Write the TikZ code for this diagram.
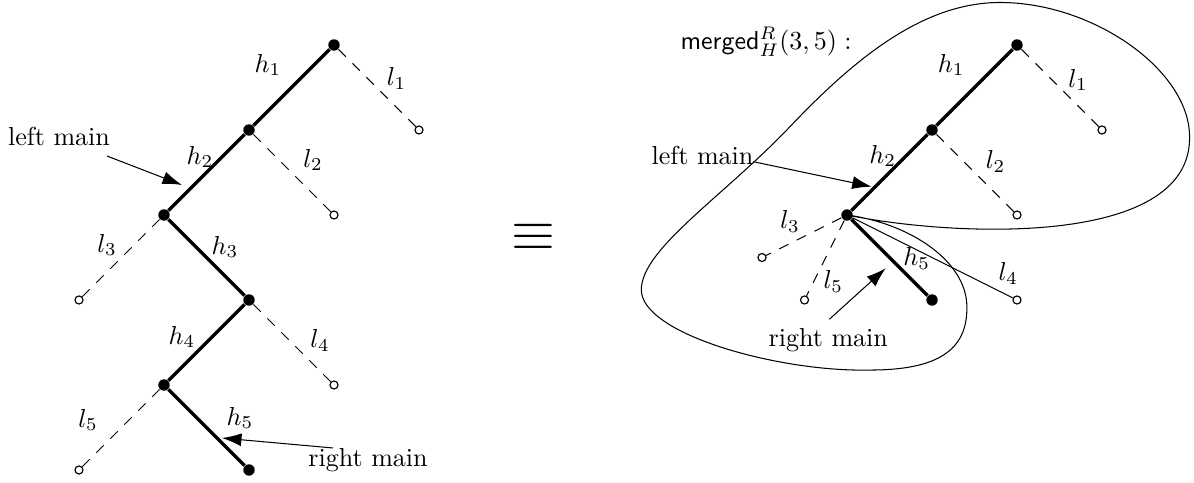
\documentclass[tikz,border=0pt]{standalone}
\usetikzlibrary{arrows.meta}
\begin{document}
\begin{tikzpicture}[x=1.149cm,y=1.149cm,
  inner/.style={circle,fill=black,inner sep=0pt,minimum size=4.4pt},
  leaf/.style={circle,draw=black,fill=white,line width=0.45pt,inner sep=0pt,minimum size=3.1pt},
  mainedge/.style={line width=1.3pt},
  leafedge/.style={line width=0.4pt,dash pattern=on 4pt off 3.6pt},
  thinedge/.style={line width=0.4pt},
  pointer/.style={line width=0.4pt,-{Latex[length=7.5pt,width=5pt]}},
  blob/.style={line width=0.4pt},
  lab/.style={inner sep=0pt}]
\useasboundingbox (-0.9294,-0.1412) rectangle (13.1176,5.5294);

% ---------- left tree ----------
\node[inner] (a1) at (3,5) {};
\node[inner] (a2) at (2,4) {};
\node[inner] (a3) at (1,3) {};
\node[inner] (a4) at (2,2) {};
\node[inner] (a5) at (1,1) {};
\node[inner] (a6) at (2,0) {};
\node[leaf] (b1) at (4,4) {};
\node[leaf] (b2) at (3,3) {};
\node[leaf] (b3) at (0,2) {};
\node[leaf] (b4) at (3,1) {};
\node[leaf] (b5) at (0,0) {};
\draw[mainedge] (a1) -- (a2);
\draw[mainedge] (a2) -- (a3);
\draw[mainedge] (a3) -- (a4);
\draw[mainedge] (a4) -- (a5);
\draw[mainedge] (a5) -- (a6);
\draw[leafedge] (a1) -- (b1);
\draw[leafedge] (a2) -- (b2);
\draw[leafedge] (a3) -- (b3);
\draw[leafedge] (a4) -- (b4);
\draw[leafedge] (a5) -- (b5);

\node[lab] (th1) at (2.224,4.765) {$h_1$};
\node[lab] (tl1) at (3.737,4.608) {$l_1$};
\node[lab] (th2) at (1.424,3.682) {$h_2$};
\node[lab] (tl2) at (2.753,3.647) {$l_2$};
\node[lab] (tl3) at (0.329,2.647) {$l_3$};
\node[lab] (th3) at (1.718,2.624) {$h_3$};
\node[lab] (th4) at (1.212,1.565) {$h_4$};
\node[lab] (tl4) at (2.835,1.529) {$l_4$};
\node[lab] (tl5) at (0.106,0.588) {$l_5$};
\node[lab] (th5) at (1.894,0.612) {$h_5$};

\node[lab] (lmain) at (-0.235,3.918) {left main};
\coordinate (lmA) at (0.329,3.694);
\coordinate (lmB) at (1.212,3.353);
\draw[pointer] (lmA) -- (lmB);

\node[lab] (rmain) at (3.4,0.118) {right main};
\coordinate (rmA) at (2.988,0.259);
\coordinate (rmB) at (1.682,0.376);
\draw[pointer] (rmA) -- (rmB);

% ---------- equivalence ----------
\node[lab] (eqv) at (5.341,2.741) {\scalebox{2.17}{$\equiv$}};

% ---------- right tree ----------
\begin{scope}[shift={(8.0353,0)}]
\node[inner] (r1) at (3,5) {};
\node[inner] (r2) at (2,4) {};
\node[inner] (r3) at (1,3) {};
\node[inner] (r6) at (2,2) {};
\node[leaf] (c1) at (4,4) {};
\node[leaf] (c2) at (3,3) {};
\node[leaf] (c3) at (0,2.5) {};
\node[leaf] (c5) at (0.5,2) {};
\node[leaf] (c4) at (3,2) {};
\draw[mainedge] (r1) -- (r2);
\draw[mainedge] (r2) -- (r3);
\draw[mainedge] (r3) -- (r6);
\draw[leafedge] (r1) -- (c1);
\draw[leafedge] (r2) -- (c2);
\draw[leafedge] (r3) -- (c3);
\draw[leafedge] (r3) -- (c5);
\draw[thinedge] (r3) -- (c4);

\draw[blob] (r3.center)
  .. controls (2.2,2.75) and (5.05,2.6) .. (5.03,3.92)
  .. controls (5.03,4.7) and (3.9,5.5) .. (2.8,5.5)
  .. controls (1.9,5.5) and (1.1,4.85) .. (0.33,4.04)
  .. controls (-0.45,3.22) and (-1.42,2.6) .. (-1.42,2.12)
  .. controls (-1.42,1.6) and (0.2,1.15) .. (1.27,1.176)
  .. controls (2.05,1.176) and (2.42,1.4) .. (2.41,1.92)
  .. controls (2.41,2.45) and (1.75,2.9) .. (r3.center);

\node[lab,anchor=west] (mlab) at (-0.965,5.035) {\textsf{merged}$^R_H(3,5):$};
\node[lab] (sh1) at (2.226,4.765) {$h_1$};
\node[lab] (sl1) at (3.718,4.588) {$l_1$};
\node[lab] (sh2) at (1.42,3.694) {$h_2$};
\node[lab] (sl2) at (2.747,3.627) {$l_2$};
\node[lab] (sl3) at (0.329,2.921) {$l_3$};
\node[lab] (sh5) at (1.82,2.49) {$h_5$};
\node[lab] (sl4) at (2.898,2.314) {$l_4$};
\node[lab] (sl5) at (0.839,2.215) {$l_5$};

\node[lab] (slm) at (-0.7,3.706) {left main};
\coordinate (slmA) at (-0.102,3.627);
\coordinate (slmB) at (1.291,3.333);
\draw[pointer] (slmA) -- (slmB);

\node[lab] (srm) at (0.78,1.529) {right main};
\coordinate (srmA) at (0.792,1.773);
\coordinate (srmB) at (1.455,2.373);
\draw[pointer] (srmA) -- (srmB);
\end{scope}
\end{tikzpicture}
\end{document}
